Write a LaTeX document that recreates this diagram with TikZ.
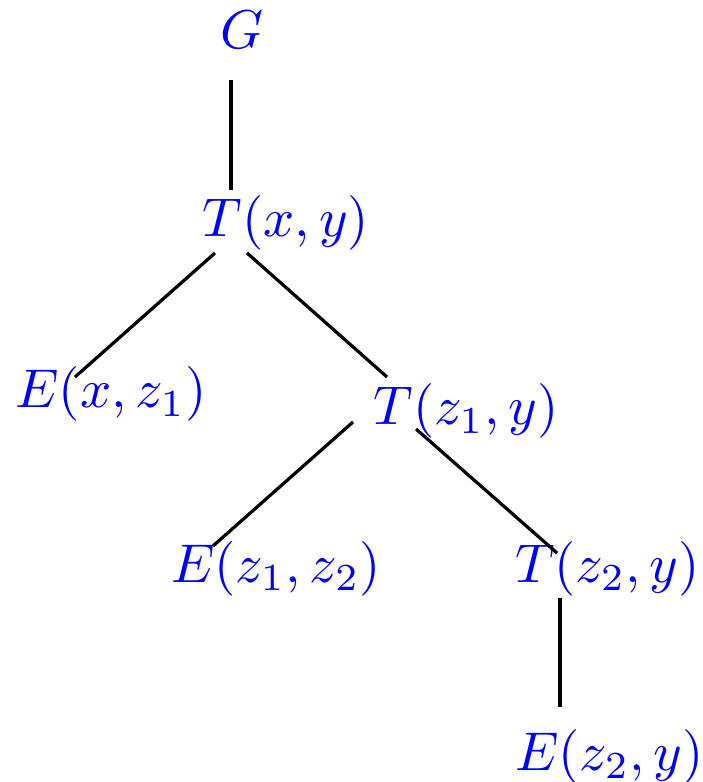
\documentclass[tikz,border=0pt]{standalone}
\usetikzlibrary{calc}
\begin{document}
\begin{tikzpicture}[x=0.1831pt,y=-0.1831pt,
  lbl/.style={text=blue,inner sep=0pt,anchor=base,xshift=3.5*0.1831pt},
  link/.style={line width=0.59pt,black}]
\useasboundingbox (0,0) rectangle (702,782);
\node[lbl] (G)    at (238,49)    {$G$};
\node[lbl] (Txy)  at (282.5,237) {$T(x,y)$};
\node[lbl] (Exz)  at (107.5,408) {$E(x,z_1)$};
\node[lbl] (Tzy)  at (462.5,425) {$T(z_1,y)$};
\node[lbl] (Ezz)  at (272.5,582) {$E(z_1,z_2)$};
\node[lbl] (Tz2)  at (604,582)   {$T(z_2,y)$};
\node[lbl] (Ez2)  at (606,770)   {$E(z_2,y)$};
\draw[link] ($(G.base)+(231-241.5,80-49)$) -- ($(Txy.base)+(231-286,190-237)$);
\draw[link] ($(Txy.base)+(215-286,253-237)$) -- ($(Exz.base)+(75-111,377-408)$);
\draw[link] ($(Txy.base)+(247-286,253-237)$) -- ($(Tzy.base)+(387-466,377-425)$);
\draw[link] ($(Tzy.base)+(353-466,422-425)$) -- ($(Ezz.base)+(213-276,546-582)$);
\draw[link] ($(Tzy.base)+(416-466,429-425)$) -- ($(Tz2.base)+(557-607.5,553-582)$);
\draw[link] ($(Tz2.base)+(560-607.5,598-582)$) -- ($(Ez2.base)+(560-609.5,707-770)$);
\end{tikzpicture}
\end{document}
